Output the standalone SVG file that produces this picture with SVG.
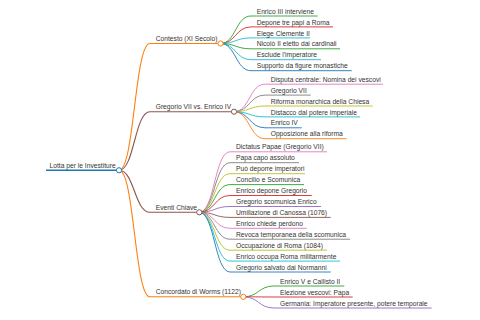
<svg xmlns="http://www.w3.org/2000/svg" width="480" height="320" viewBox="0 0 480 320">
<style>
text{font-family:"Liberation Sans",Arial,sans-serif;font-size:6.7px;fill:#333}
path,line{fill:none}
.l0{stroke-width:1.6}
.l1{stroke-width:1.1}
.l2{stroke-width:0.9}
circle{fill:#fff;stroke-width:1}
.blue{stroke:#1f77b4}.orange{stroke:#ff7f0e}.green{stroke:#2ca02c}.red{stroke:#d62728}.purple{stroke:#9467bd}.brown{stroke:#8c564b}.pink{stroke:#e377c2}.gray{stroke:#7f7f7f}.olive{stroke:#bcbd22}.cyan{stroke:#17becf}
</style>
<rect width="480" height="320" fill="#fff"/>
<g id="connectors">
<path class="l1 orange" d="M119,170.3 C134.5,170.3 134.5,43.5 150,43.5"/>
<path class="l1 brown" d="M119,170.3 C134.5,170.3 134.5,111.7 150,111.7"/>
<path class="l1 brown" d="M119,170.3 C134.5,170.3 134.5,212.3 150,212.3"/>
<path class="l1 orange" d="M119,170.3 C134.5,170.3 134.5,296.8 150,296.8"/>
<path class="l2 green" d="M220.5,43.5 C235.7,43.5 235.7,16 251,16"/>
<path class="l2 red" d="M220.5,43.5 C235.7,43.5 235.7,26.9 251,26.9"/>
<path class="l2 cyan" d="M220.5,43.5 C235.7,43.5 235.7,37.9 251,37.9"/>
<path class="l2 green" d="M220.5,43.5 C235.7,43.5 235.7,48.8 251,48.8"/>
<path class="l2 cyan" d="M220.5,43.5 C235.7,43.5 235.7,59.7 251,59.7"/>
<path class="l2 blue" d="M220.5,43.5 C235.7,43.5 235.7,70.7 251,70.7"/>
<path class="l2 pink" d="M234,111.7 C249.5,111.7 249.5,84.2 265,84.2"/>
<path class="l2 gray" d="M234,111.7 C249.5,111.7 249.5,95.1 265,95.1"/>
<path class="l2 olive" d="M234,111.7 C249.5,111.7 249.5,106 265,106"/>
<path class="l2 cyan" d="M234,111.7 C249.5,111.7 249.5,116.9 265,116.9"/>
<path class="l2 blue" d="M234,111.7 C249.5,111.7 249.5,127.8 265,127.8"/>
<path class="l2 orange" d="M234,111.7 C249.5,111.7 249.5,138.7 265,138.7"/>
<path class="l2 pink" d="M199.3,212.3 C214.6,212.3 214.6,151.8 230,151.8"/>
<path class="l2 gray" d="M199.3,212.3 C214.6,212.3 214.6,162.7 230,162.7"/>
<path class="l2 olive" d="M199.3,212.3 C214.6,212.3 214.6,173.7 230,173.7"/>
<path class="l2 green" d="M199.3,212.3 C214.6,212.3 214.6,184.6 230,184.6"/>
<path class="l2 red" d="M199.3,212.3 C214.6,212.3 214.6,195.5 230,195.5"/>
<path class="l2 purple" d="M199.3,212.3 C214.6,212.3 214.6,206.5 230,206.5"/>
<path class="l2 brown" d="M199.3,212.3 C214.6,212.3 214.6,217.4 230,217.4"/>
<path class="l2 pink" d="M199.3,212.3 C214.6,212.3 214.6,228.3 230,228.3"/>
<path class="l2 gray" d="M199.3,212.3 C214.6,212.3 214.6,239.2 230,239.2"/>
<path class="l2 olive" d="M199.3,212.3 C214.6,212.3 214.6,250.2 230,250.2"/>
<path class="l2 cyan" d="M199.3,212.3 C214.6,212.3 214.6,261.1 230,261.1"/>
<path class="l2 blue" d="M199.3,212.3 C214.6,212.3 214.6,272 230,272"/>
<path class="l2 green" d="M243.3,296.8 C258.6,296.8 258.6,286 274,286"/>
<path class="l2 red" d="M243.3,296.8 C258.6,296.8 258.6,297 274,297"/>
<path class="l2 purple" d="M243.3,296.8 C258.6,296.8 258.6,308 274,308"/>
</g>
<g id="root"><line class="l0 blue" x1="46" y1="170.3" x2="119" y2="170.3"/><text x="49.5" y="167.8">Lotta per le Investiture</text><circle class="blue" cx="119" cy="170.3" r="2.6"/></g>
<g id="contesto"><line class="l1 orange" x1="150" y1="43.5" x2="220.5" y2="43.5"/><text x="155.7" y="41.1">Contesto (XI Secolo)</text><circle class="orange" cx="220.5" cy="43.5" r="2.6"/></g>
<g id="c1"><line class="l2 green" x1="251" y1="16" x2="317.7" y2="16"/><text x="256.7" y="13.6">Enrico III interviene</text></g>
<g id="c2"><line class="l2 red" x1="251" y1="26.9" x2="333" y2="26.9"/><text x="256.7" y="24.5">Depone tre papi a Roma</text></g>
<g id="c3"><line class="l2 cyan" x1="251" y1="37.9" x2="310" y2="37.9"/><text x="256.7" y="35.5">Elege Clemente II</text></g>
<g id="c4"><line class="l2 green" x1="251" y1="48.8" x2="340" y2="48.8"/><text x="256.7" y="46.4">Nicolò II eletto dai cardinali</text></g>
<g id="c5"><line class="l2 cyan" x1="251" y1="59.7" x2="321" y2="59.7"/><text x="256.7" y="57.3">Esclude l'imperatore</text></g>
<g id="c6"><line class="l2 blue" x1="251" y1="70.7" x2="351.7" y2="70.7"/><text x="256.7" y="68.3">Supporto da figure monastiche</text></g>
<g id="gregorio"><line class="l1 brown" x1="150" y1="111.7" x2="234" y2="111.7"/><text x="155.7" y="109.3">Gregorio VII vs. Enrico IV</text><circle class="brown" cx="234" cy="111.7" r="2.6"/></g>
<g id="g1"><line class="l2 pink" x1="265" y1="84.2" x2="383" y2="84.2"/><text x="270.7" y="81.8">Disputa centrale: Nomina dei vescovi</text></g>
<g id="g2"><line class="l2 gray" x1="265" y1="95.1" x2="310.7" y2="95.1"/><text x="270.7" y="92.7">Gregorio VII</text></g>
<g id="g3"><line class="l2 olive" x1="265" y1="106" x2="372.7" y2="106"/><text x="270.7" y="103.6">Riforma monarchica della Chiesa</text></g>
<g id="g4"><line class="l2 cyan" x1="265" y1="116.9" x2="360" y2="116.9"/><text x="270.7" y="114.5">Distacco dal potere imperiale</text></g>
<g id="g5"><line class="l2 blue" x1="265" y1="127.8" x2="301.7" y2="127.8"/><text x="270.7" y="125.4">Enrico IV</text></g>
<g id="g6"><line class="l2 orange" x1="265" y1="138.7" x2="346.7" y2="138.7"/><text x="270.7" y="136.3">Opposizione alla riforma</text></g>
<g id="eventi"><line class="l1 brown" x1="150" y1="212.3" x2="199.3" y2="212.3"/><text x="155.7" y="209.9">Eventi Chiave</text><circle class="brown" cx="199.3" cy="212.3" r="2.6"/></g>
<g id="e1"><line class="l2 pink" x1="230" y1="151.8" x2="327" y2="151.8"/><text x="236" y="149.4">Dictatus Papae (Gregorio VII)</text></g>
<g id="e2"><line class="l2 gray" x1="230" y1="162.7" x2="299" y2="162.7"/><text x="236" y="160.3">Papa capo assoluto</text></g>
<g id="e3"><line class="l2 olive" x1="230" y1="173.7" x2="305" y2="173.7"/><text x="236" y="171.3">Può deporre imperatori</text></g>
<g id="e4"><line class="l2 green" x1="230" y1="184.6" x2="304" y2="184.6"/><text x="236" y="182.2">Concilio e Scomunica</text></g>
<g id="e5"><line class="l2 red" x1="230" y1="195.5" x2="311.7" y2="195.5"/><text x="236" y="193.1">Enrico depone Gregorio</text></g>
<g id="e6"><line class="l2 purple" x1="230" y1="206.5" x2="321" y2="206.5"/><text x="236" y="204.1">Gregorio scomunica Enrico</text></g>
<g id="e7"><line class="l2 brown" x1="230" y1="217.4" x2="330.7" y2="217.4"/><text x="236" y="215">Umiliazione di Canossa (1076)</text></g>
<g id="e8"><line class="l2 pink" x1="230" y1="228.3" x2="306.7" y2="228.3"/><text x="236" y="225.9">Enrico chiede perdono</text></g>
<g id="e9"><line class="l2 gray" x1="230" y1="239.2" x2="350" y2="239.2"/><text x="236" y="236.8">Revoca temporanea della scomunica</text></g>
<g id="e10"><line class="l2 olive" x1="230" y1="250.2" x2="327" y2="250.2"/><text x="236" y="247.8">Occupazione di Roma (1084)</text></g>
<g id="e11"><line class="l2 cyan" x1="230" y1="261.1" x2="340" y2="261.1"/><text x="236" y="258.7">Enrico occupa Roma militarmente</text></g>
<g id="e12"><line class="l2 blue" x1="230" y1="272" x2="330.7" y2="272"/><text x="236" y="269.6">Gregorio salvato dai Normanni</text></g>
<g id="concordato"><line class="l1 orange" x1="150" y1="296.8" x2="243.3" y2="296.8"/><text x="155.7" y="294.4">Concordato di Worms (1122)</text><circle class="orange" cx="243.3" cy="296.8" r="2.6"/></g>
<g id="w1"><line class="l2 green" x1="274" y1="286" x2="344.3" y2="286"/><text x="280" y="283.6">Enrico V e Callisto II</text></g>
<g id="w2"><line class="l2 red" x1="274" y1="297" x2="352.7" y2="297"/><text x="280" y="294.6">Elezione vescovi: Papa</text></g>
<g id="w3"><line class="l2 purple" x1="274" y1="308" x2="431.7" y2="308"/><text x="280" y="305.6">Germania: Imperatore presente, potere temporale</text></g>
</svg>
